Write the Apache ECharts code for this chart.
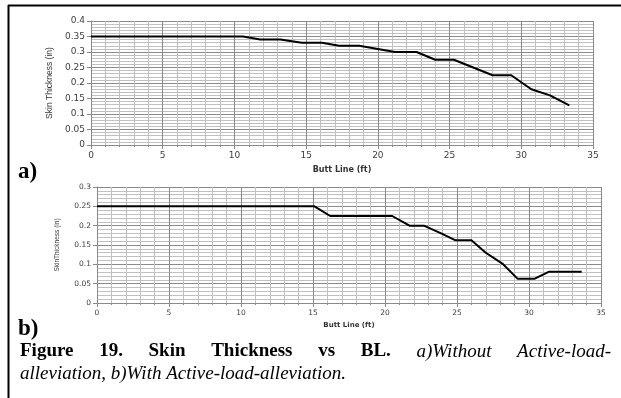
<!DOCTYPE html>
<html>
<head>
<meta charset="utf-8">
<script src="https://cdn.jsdelivr.net/npm/echarts@6/dist/echarts.min.js"></script>
<style>
html,body{margin:0;padding:0;background:#fff;}
#chart{width:621px;height:398px;}
</style>
</head>
<body>
<div id="chart"></div>
<script>
// Chart a) Without active-load-alleviation
var buttLineA = [0, 10.6, 11.8, 13.2, 14.7, 16.1, 17.3, 18.7, 20.0, 21.2, 22.7, 24.0, 25.3, 28.0, 29.3, 30.7, 32.0, 33.35];
var thicknessA = [0.35, 0.35, 0.34, 0.34, 0.33, 0.33, 0.32, 0.32, 0.31, 0.30, 0.30, 0.275, 0.275, 0.225, 0.225, 0.18, 0.16, 0.128];
// Chart b) With active-load-alleviation
var buttLineB = [0, 15.1, 16.2, 20.5, 21.7, 22.7, 23.9, 24.9, 26.0, 27.0, 28.15, 29.2, 30.4, 31.4, 33.66];
var thicknessB = [0.25, 0.25, 0.225, 0.225, 0.2, 0.2, 0.18, 0.162, 0.162, 0.13, 0.102, 0.063, 0.063, 0.081, 0.081];

var xTicks = {min: 0, max: 35, interval: 5};
var yTicksA = {min: 0, max: 0.4, interval: 0.05};
var yTicksB = {min: 0, max: 0.3, interval: 0.05};

var xTitle = 'Butt Line (ft)';
var yTitleA = 'Skin Thickness (in)';
var yTitleB = 'SkinThickness (in)';
var panelA = 'a)';
var panelB = 'b)';
var captionBold = ['Figure', '19.', 'Skin', 'Thickness', 'vs', 'BL.'];
var captionItal1 = ['a)Without', 'Active-load-'];
var captionLine2 = 'alleviation, b)With Active-load-alleviation.';

function zip(xs, ys) { return xs.map(function (x, i) { return [x, ys[i]]; }); }

var MAJOR = '#8a8a8a', MINOR = '#c0c0c0', LBL = '#404040';

function xAxisCfg(gi, fs, nameFs, gap) {
  return {
    type: 'value', gridIndex: gi, min: xTicks.min, max: xTicks.max, interval: xTicks.interval,
    name: xTitle, nameLocation: 'middle', nameGap: gap,
    nameTextStyle: {fontFamily: 'DejaVu Sans', fontWeight: 'bold', fontSize: nameFs, color: '#333'},
    axisLine: {show: true, lineStyle: {color: MAJOR, width: 1}},
    axisTick: {show: true, length: 4, lineStyle: {color: MAJOR}},
    minorTick: {show: true, splitNumber: 5, length: 2, lineStyle: {color: MAJOR}},
    axisLabel: {fontFamily: 'DejaVu Sans', fontSize: fs, color: LBL, margin: 6},
    splitLine: {show: true, lineStyle: {color: MAJOR, width: 1}},
    minorSplitLine: {show: true, lineStyle: {color: MINOR, width: 1}}
  };
}
function yAxisCfg(gi, t, name, fs, nameFs, gap) {
  return {
    type: 'value', gridIndex: gi, min: t.min, max: t.max, interval: t.interval,
    name: name, nameLocation: 'middle', nameGap: gap,
    nameTextStyle: {fontFamily: 'Liberation Sans', fontSize: nameFs, color: '#333'},
    axisLine: {show: true, lineStyle: {color: MAJOR, width: 1}},
    axisTick: {show: true, length: 4, lineStyle: {color: MAJOR}},
    minorTick: {show: false, splitNumber: 5},
    axisLabel: {fontFamily: 'DejaVu Sans', fontSize: fs, color: LBL, margin: 6},
    splitLine: {show: true, lineStyle: {color: MAJOR, width: 1}},
    minorSplitLine: {show: true, lineStyle: {color: MINOR, width: 1}}
  };
}

// Caption justification (line 1 spans 20 -> 611)
var mc = document.createElement('canvas').getContext('2d');
var FS = 19;
var fBold = 'bold ' + FS + 'px "Liberation Serif"';
var fItal = 'italic ' + FS + 'px "Liberation Serif"';
var words = captionBold.map(function (w) { return {t: w, f: fBold}; })
  .concat(captionItal1.map(function (w) { return {t: w, f: fItal}; }));
var totalW = 0;
words.forEach(function (w) { mc.font = w.f; w.w = mc.measureText(w.t).width; totalW += w.w; });
var lineL = 20, lineR = 611;
var gapW = (lineR - lineL - totalW) / (words.length - 1);
var cx = lineL;
var captionEls = [];
words.forEach(function (w) {
  captionEls.push({
    type: 'text', left: cx, top: 342,
    style: {text: w.t, font: w.f, fill: '#000'}
  });
  cx += w.w + gapW;
});

var graphics = [
  {type: 'line', shape: {x1: 8, y1: 5.5, x2: 621, y2: 5.5}, style: {stroke: '#000', lineWidth: 2}},
  {type: 'line', shape: {x1: 8.5, y1: 5, x2: 8.5, y2: 398}, style: {stroke: '#000', lineWidth: 2}},
  {type: 'text', left: 18, top: 161, style: {text: panelA, font: 'bold 23px "Liberation Serif"', fill: '#000'}},
  {type: 'text', left: 18, top: 318, style: {text: panelB, font: 'bold 23px "Liberation Serif"', fill: '#000'}},
  {type: 'text', left: 20, top: 364, style: {text: captionLine2, font: fItal, fill: '#000'}}
].concat(captionEls);

var chart = echarts.init(document.getElementById('chart'), null, {renderer: 'canvas'});
chart.setOption({
  animation: false,
  backgroundColor: '#fff',
  grid: [
    {left: 91, top: 21, width: 502, height: 124},
    {left: 97, top: 187, width: 504, height: 116}
  ],
  xAxis: [xAxisCfg(0, 9, 8, 21), xAxisCfg(1, 7.5, 7, 19)],
  yAxis: [yAxisCfg(0, yTicksA, yTitleA, 9, 8.5, 30), yAxisCfg(1, yTicksB, yTitleB, 7.5, 6.5, 36)],
  series: [
    {type: 'line', xAxisIndex: 0, yAxisIndex: 0, data: zip(buttLineA, thicknessA), showSymbol: false, symbol: 'none',
     lineStyle: {color: '#000', width: 2}},
    {type: 'line', xAxisIndex: 1, yAxisIndex: 1, data: zip(buttLineB, thicknessB), showSymbol: false, symbol: 'none',
     lineStyle: {color: '#000', width: 2}}
  ],
  graphic: graphics
});
</script>
</body>
</html>
